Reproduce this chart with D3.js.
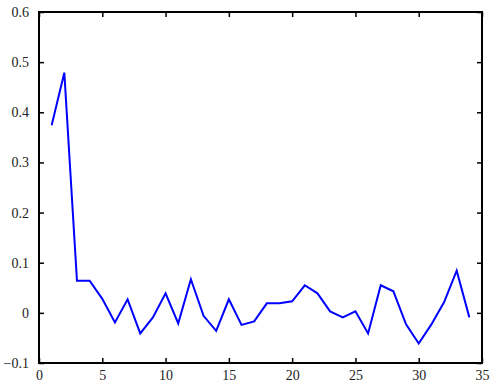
<!DOCTYPE html>
<html>
<head>
<meta charset="utf-8">
<script src="https://cdn.jsdelivr.net/npm/d3@7"></script>
<style>
  body { margin: 0; background: #fff; }
</style>
</head>
<body>
<svg id="chart"></svg>
<script>
// values
const xs = d3.range(1, 35);
const ys = [0.374, 0.479, 0.064, 0.064, 0.028, -0.019, 0.027, -0.041, -0.009, 0.039,
            -0.021, 0.067, -0.006, -0.036, 0.027, -0.024, -0.017, 0.019, 0.019, 0.023,
            0.055, 0.039, 0.003, -0.009, 0.003, -0.041, 0.055, 0.043, -0.023, -0.061,
            -0.023, 0.021, 0.084, -0.009];
const xTicks = [0, 5, 10, 15, 20, 25, 30, 35];
const yTicks = [-0.1, 0, 0.1, 0.2, 0.3, 0.4, 0.5, 0.6];

const W = 491, H = 383;
const mLeft = 39, mRight = 482, mTop = 12, mBottom = 363;
const FONT = "Liberation Serif, DejaVu Serif, Times, serif";

const svg = d3.select("#chart").attr("width", W).attr("height", H);

const x = d3.scaleLinear().domain([0, 35]).range([mLeft, mRight]);
const y = d3.scaleLinear().domain([-0.1, 0.6]).range([mBottom, mTop]);

const fmt = d => (d === 0 ? "0" : d3.format(".1f")(d));

function styleAxis(g) {
	g.attr("font-family", null).attr("font-size", null);
	g.select(".domain").remove();
	g.selectAll(".tick line").attr("stroke", "#000").attr("stroke-width", 1.5);
	g.selectAll(".tick text")
		.attr("fill", "#222")
		.style("font-family", FONT)
		.style("font-size", "14px");
}

// bottom / left axes with labels, ticks pointing inward
svg.append("g")
	.attr("transform", `translate(0,${mBottom})`)
	.call(d3.axisBottom(x).tickValues(xTicks).tickFormat(d3.format("d")).tickSizeInner(-5).tickSizeOuter(0).tickPadding(7))
	.call(styleAxis);

svg.append("g")
	.attr("transform", `translate(${mLeft},0)`)
	.call(d3.axisLeft(y).tickValues(yTicks).tickFormat(fmt).tickSizeInner(-5).tickSizeOuter(0).tickPadding(10))
	.call(styleAxis);

// top / right ticks, no labels
svg.append("g")
	.attr("transform", `translate(0,${mTop})`)
	.call(d3.axisTop(x).tickValues(xTicks).tickFormat("").tickSizeInner(-5).tickSizeOuter(0))
	.call(styleAxis);

svg.append("g")
	.attr("transform", `translate(${mRight},0)`)
	.call(d3.axisRight(y).tickValues(yTicks).tickFormat("").tickSizeInner(-5).tickSizeOuter(0))
	.call(styleAxis);

// the box
svg.append("rect")
	.attr("x", mLeft).attr("y", mTop)
	.attr("width", mRight - mLeft).attr("height", mBottom - mTop)
	.attr("fill", "none").attr("stroke", "#000").attr("stroke-width", 2);

const line = d3.line()
	.x((d, i) => x(xs[i]))
	.y(d => y(d));

svg.append("path")
	.datum(ys)
	.attr("d", line)
	.attr("fill", "none")
	.attr("stroke", "#0000ff")
	.attr("stroke-width", 2);
</script>
</body>
</html>
